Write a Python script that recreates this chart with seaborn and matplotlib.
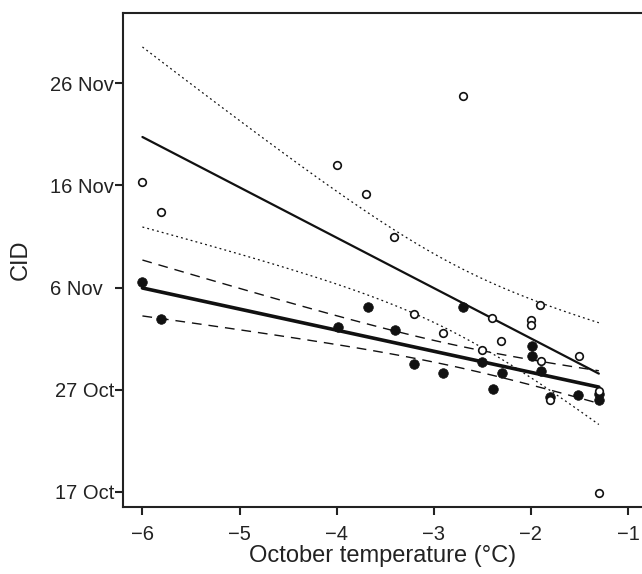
import numpy as np
import pandas as pd
import matplotlib.pyplot as plt
import seaborn as sns

# CID as day of year (17 Oct = 290), October temperature in deg C
open_temp = [-2.70, -4.00, -3.70, -6.00, -5.81, -3.41, -3.20, -2.90, -2.40, -2.31,
             -2.50, -2.00, -2.00, -1.91, -1.90, -1.50, -1.80, -1.30, -1.30]
open_cid = [328.8, 322.0, 319.2, 320.3, 317.4, 315.0, 307.4, 305.5, 307.0, 304.8,
            303.9, 306.8, 306.3, 308.3, 302.8, 303.3, 299.0, 289.9, 299.9]

filled_temp = [-6.00, -5.81, -3.68, -3.99, -3.40, -2.70, -3.20, -2.90, -2.50,
               -2.39, -2.30, -1.99, -1.99, -1.90, -1.80, -1.51, -1.30, -1.30]
filled_cid = [310.5, 306.9, 308.1, 306.1, 305.8, 308.1, 302.5, 301.6, 302.7,
              300.1, 301.6, 304.3, 303.3, 301.8, 299.3, 299.5, 299.6, 299.0]

x_ticks = [-6, -5, -4, -3, -2, -1]
x_labels = ["\u22126", "\u22125", "\u22124", "\u22123", "\u22122", "\u22121"]
y_ticks = [290, 300, 310, 320, 330]
y_labels = ["17 Oct", "27 Oct", "6 Nov  ", "16 Nov", "26 Nov"]


def fit_band(x, y, t=2.11):
    # straight line fit with 95% confidence band of the mean
    x = np.asarray(x)
    y = np.asarray(y)
    slope, icept = np.polyfit(x, y, 1)
    xs = np.linspace(x.min(), x.max(), 60)
    resid = y - (icept + slope * x)
    s = np.sqrt(resid @ resid / (len(x) - 2))
    se = s * np.sqrt(1 / len(x) + (xs - x.mean()) ** 2 / ((x - x.mean()) ** 2).sum())
    fit = icept + slope * xs
    return pd.DataFrame({"x": xs, "fit": fit, "lo": fit - t * se, "hi": fit + t * se})


sns.set_theme(style="ticks")
plt.rcParams["font.family"] = ["Liberation Sans", "DejaVu Sans"]

fig = plt.figure(figsize=(6.42, 5.74), dpi=100)
ax = fig.add_axes([0.1916, 0.1167, 0.81, 0.8607])

band_o = fit_band(open_temp, open_cid)
band_f = fit_band(filled_temp, filled_cid)

dot = (0, (1.5, 2.5))
dash = (0, (7, 5))
sns.lineplot(data=band_o, x="x", y="fit", ax=ax, color="#111111", lw=1.6)
sns.lineplot(data=band_o, x="x", y="lo", ax=ax, color="#111111", lw=0.9, linestyle=dot)
sns.lineplot(data=band_o, x="x", y="hi", ax=ax, color="#111111", lw=0.9, linestyle=dot)
sns.lineplot(data=band_f, x="x", y="fit", ax=ax, color="#111111", lw=2.6)
sns.lineplot(data=band_f, x="x", y="lo", ax=ax, color="#111111", lw=1.0, linestyle=dash)
sns.lineplot(data=band_f, x="x", y="hi", ax=ax, color="#111111", lw=1.0, linestyle=dash)

sns.scatterplot(x=filled_temp, y=filled_cid, ax=ax, color="#111111", s=48,
                edgecolor="#111111", linewidth=0.5, zorder=3)
sns.scatterplot(x=open_temp, y=open_cid, ax=ax, facecolor="white", s=30,
                edgecolor="#111111", linewidth=1.2, zorder=4)

ax.set_xlim(-6.2, -0.845)
ax.set_ylim(288.5, 336.9)
ax.set_xticks(x_ticks, x_labels)
ax.set_yticks(y_ticks, y_labels)
ax.set_xlabel("October temperature (\u00b0C)", fontsize=17, color="#222222", labelpad=1)
ax.set_ylabel("CID", fontsize=17, color="#222222", labelpad=13)
ax.tick_params(axis="both", direction="out", length=6, width=1.5, color="#222222",
               labelsize=14.5, labelcolor="#222222")
ax.tick_params(axis="x", pad=7)
ax.tick_params(axis="y", pad=0.5)
for side in ["left", "top", "bottom"]:
    ax.spines[side].set_linewidth(1.5)
    ax.spines[side].set_color("#222222")
ax.spines["right"].set_visible(False)

fig.savefig("out.png", dpi=100)
